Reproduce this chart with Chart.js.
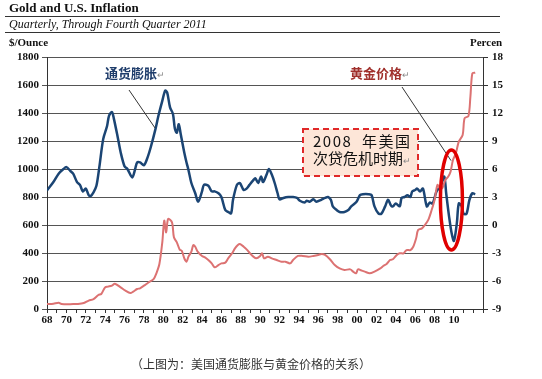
<!DOCTYPE html>
<html><head><meta charset="utf-8">
<script src="https://cdn.jsdelivr.net/npm/chart.js@4/dist/chart.umd.min.js"></script>
<style>html,body{margin:0;padding:0;background:#fff;}#wrap{width:542px;height:379px;}</style>
</head><body><div id="wrap"><canvas id="c" width="542" height="379"></canvas></div>
<script>
// ---- data ----
const inflationYears = [1968.0,1968.66,1969.2,1969.7,1970.0,1970.4,1970.7,1971.1,1971.4,1971.7,1972.0,1972.3,1972.5,1972.8,1973.1,1973.4,1973.8,1974.2,1974.4,1974.7,1974.9,1975.3,1975.6,1976.0,1976.3,1976.8,1977.1,1977.3,1977.6,1978.0,1978.4,1978.7,1979.2,1979.5,1979.9,1980.2,1980.4,1980.7,1981.0,1981.2,1981.4,1981.6,1981.8,1982.2,1982.4,1982.6,1982.9,1983.3,1983.6,1984.0,1984.2,1984.65,1985.0,1985.3,1985.7,1986.0,1986.4,1986.7,1987.0,1987.2,1987.6,1987.9,1988.3,1988.6,1988.9,1989.3,1989.5,1989.8,1990.1,1990.3,1990.7,1990.9,1991.2,1991.5,1991.8,1992.0,1992.4,1992.9,1993.4,1993.8,1994.1,1994.6,1994.8,1995.1,1995.5,1995.8,1996.3,1996.7,1997.0,1997.3,1997.5,1997.9,1998.2,1998.7,1999.1,1999.4,1999.95,2000.3,2000.6,2001.2,2001.5,2001.8,2002.2,2002.5,2002.9,2003.2,2003.5,2003.7,2004.0,2004.4,2004.6,2004.9,2005.2,2005.5,2005.7,2006.0,2006.2,2006.5,2006.8,2007.2,2007.5,2007.8,2008.2,2008.6,2009.0,2009.2,2009.5,2009.75,2010.0,2010.3,2010.5,2010.8,2011.0,2011.3,2011.6,2011.9,2012.2];
const inflationValues = [3.7,4.6,5.5,6.0,6.2,5.8,5.5,4.6,4.3,3.6,3.9,3.2,3.1,3.5,4.2,6.2,9.2,10.6,11.7,12.1,11.4,9.4,7.8,6.3,6.0,5.1,6.0,6.7,6.7,6.4,7.3,8.3,10.3,11.7,13.3,14.4,14.2,12.6,11.9,10.3,9.9,10.8,9.75,7.6,6.7,5.9,4.5,3.4,2.5,3.6,4.3,4.2,3.6,3.6,3.4,3.0,1.6,1.4,1.25,2.7,4.3,4.5,3.75,3.9,4.3,4.8,5.0,4.5,5.2,4.6,5.5,6.0,5.4,4.5,3.4,2.75,2.9,3.0,3.0,2.9,2.6,2.4,2.6,2.5,2.75,2.5,2.7,2.9,3.0,2.7,2.0,1.6,1.4,1.4,1.6,2.0,2.5,3.2,3.3,3.3,3.2,2.0,1.25,1.2,2.0,2.7,2.1,2.0,2.3,2.0,2.9,3.0,3.2,3.0,3.6,3.75,3.9,3.6,3.9,2.0,2.4,2.3,3.6,4.1,5.2,3.4,0.9,-0.8,-1.7,0.2,2.3,2.0,1.2,1.2,2.7,3.4,3.3];
const goldYears = [1968.0,1968.66,1969.2,1969.5,1970.7,1971.2,1971.8,1972.3,1972.8,1973.3,1973.6,1974.0,1974.3,1974.7,1975.0,1975.6,1976.1,1976.6,1976.9,1977.3,1977.6,1978.1,1978.4,1979.0,1979.3,1979.6,1979.9,1980.1,1980.3,1980.5,1980.9,1981.1,1981.4,1981.7,1981.9,1982.2,1982.4,1982.6,1982.9,1983.1,1983.3,1983.55,1984.0,1984.3,1984.65,1985.0,1985.3,1985.7,1986.0,1986.4,1986.7,1987.1,1987.4,1987.7,1987.9,1988.3,1988.6,1988.95,1989.3,1989.6,1990.0,1990.2,1990.4,1990.8,1991.2,1991.7,1992.2,1992.6,1993.1,1993.4,1993.9,1994.4,1994.97,1995.5,1996.0,1996.35,1996.7,1997.2,1997.7,1998.2,1998.7,1999.3,1999.6,1999.9,2000.1,2000.5,2000.8,2001.3,2001.8,2002.4,2002.7,2003.05,2003.4,2003.7,2004.1,2004.4,2004.8,2005.1,2005.5,2005.8,2006.1,2006.3,2006.7,2007.0,2007.35,2007.7,2008.0,2008.3,2008.55,2008.8,2009.1,2009.4,2009.65,2009.9,2010.2,2010.5,2010.9,2011.1,2011.5,2011.7,2011.9,2012.2];
const goldValues = [35,38,45,36,35,36,43,60,71,100,107,155,160,167,181,155,131,114,124,143,148,171,186,214,257,321,476,631,547,643,619,512,476,424,417,357,338,374,410,457,445,410,379,369,350,326,298,314,326,331,362,398,433,457,464,445,426,398,374,362,379,398,362,374,362,350,338,338,326,350,379,379,374,379,386,393,386,355,314,290,279,283,267,255,283,274,267,255,267,290,307,321,350,355,386,398,398,421,421,445,505,564,576,600,636,707,779,886,862,862,921,945,981,1064,1112,1195,1243,1362,1379,1517,1683,1688];
const leftTicks = {min:0, max:1800, step:200};
const rightTicks = {min:-9, max:18, step:3};
const yearRange = {min:1968, max:2013};
const texts = {
  title:'Gold and U.S. Inflation',
  subtitle:'Quarterly, Through Fourth Quarter 2011',
  leftUnit:'$/Ounce', rightUnit:'Percen',
  inflLabel:'通货膨胀', goldLabel:'黄金价格',
  box1:'2008  年美国', box2:'次贷危机时期',
  caption:'（上图为：美国通货膨胀与黄金价格的关系）'
};

const pts = (xs, ys) => xs.map((x,i)=>({x:x, y:ys[i]}));
const SERIF = '"Liberation Serif","Times New Roman",serif';
const CJK = '"Noto Sans CJK SC","Noto Sans",sans-serif';

const overlay = {
  id:'overlay',
  afterDraw(chart){
    const ctx = chart.ctx, x = chart.scales.x, yL = chart.scales.y;
    ctx.save();
    // header
    ctx.fillStyle = '#111'; ctx.textBaseline='middle'; ctx.textAlign='left';
    ctx.font = 'bold 13px '+SERIF; ctx.fillText(texts.title, 9, 9);
    ctx.strokeStyle='#333'; ctx.lineWidth=1;
    ctx.beginPath(); ctx.moveTo(5,16.5); ctx.lineTo(500,16.5); ctx.stroke();
    ctx.font = 'italic 12px '+SERIF; ctx.fillText(texts.subtitle, 9, 25);
    ctx.beginPath(); ctx.moveTo(5,32.5); ctx.lineTo(500,32.5); ctx.stroke();
    ctx.font = 'bold 11px '+SERIF; ctx.fillText(texts.leftUnit, 9, 43);
    ctx.fillText(texts.rightUnit, 470, 43);
    // leader lines
    ctx.strokeStyle='#333'; ctx.lineWidth=1;
    ctx.beginPath(); ctx.moveTo(129,90); ctx.lineTo(x.getPixelForValue(1979.15), yL.getPixelForValue(1293)); ctx.stroke();
    ctx.beginPath(); ctx.moveTo(402,87); ctx.lineTo(x.getPixelForValue(2009.7), yL.getPixelForValue(1060)); ctx.stroke();
    // series labels
    ctx.font = 'bold 13px '+CJK;
    ctx.fillStyle='#1f3d6b'; ctx.fillText(texts.inflLabel, 105, 73);
    let w = ctx.measureText(texts.inflLabel).width;
    ctx.font='9px '+CJK; ctx.fillStyle='#888'; ctx.fillText('↵', 105+w, 75);
    ctx.font = 'bold 13px '+CJK;
    ctx.fillStyle='#a0302c'; ctx.fillText(texts.goldLabel, 350, 73);
    w = ctx.measureText(texts.goldLabel).width;
    ctx.font='9px '+CJK; ctx.fillStyle='#888'; ctx.fillText('↵', 350+w, 75);
    // crisis box
    ctx.fillStyle='#fde6d8'; ctx.fillRect(303,129,115,47);
    ctx.setLineDash([6,4]); ctx.strokeStyle='#e02828'; ctx.lineWidth=2;
    ctx.strokeRect(303,129,115,47); ctx.setLineDash([]);
    ctx.fillStyle='#111'; ctx.font='15px '+CJK;
    ctx.letterSpacing='1.5px';
    ctx.fillText(texts.box1, 313, 141);
    ctx.letterSpacing='0px';
    ctx.fillText(texts.box2, 313, 158);
    w = ctx.measureText(texts.box2).width;
    ctx.font='9px '+CJK; ctx.fillStyle='#888'; ctx.fillText('↵', 313+w, 161);
    // ellipse around 2008-09 crisis
    const cx = x.getPixelForValue(2009.74), cy = yL.getPixelForValue(779);
    ctx.strokeStyle='#e00000'; ctx.lineWidth=3.5;
    ctx.beginPath(); ctx.ellipse(cx, cy, 11, 50, 0, 0, Math.PI*2); ctx.stroke();
    // caption
    ctx.fillStyle='#333'; ctx.font='12px '+CJK; ctx.textAlign='left';
    ctx.fillText(texts.caption, 131, 364);
    ctx.restore();
  }
};

new Chart(document.getElementById('c'), {
  type:'line',
  data:{ datasets:[
    {label:'Gold', data:pts(goldYears, goldValues), yAxisID:'y', borderColor:'#dc7272', borderWidth:2, pointRadius:0, tension:0.3},
    {label:'Inflation', data:pts(inflationYears, inflationValues), yAxisID:'y1', borderColor:'#1b4574', borderWidth:2.5, pointRadius:0, tension:0.3}
  ]},
  options:{
    responsive:false, animation:false, devicePixelRatio:1,
    layout:{padding:{top:57,left:0,right:0,bottom:0}},
    plugins:{legend:{display:false}, tooltip:{enabled:false}},
    scales:{
      x:{type:'linear', min:yearRange.min, max:yearRange.max,
        afterFit(s){s.height=70;},
        afterBuildTicks(s){ const t=[]; for(let v=yearRange.min; v<=yearRange.max; v++) t.push({value:v}); s.ticks=t; },
        grid:{drawOnChartArea:false, drawTicks:true, tickLength:4, color:'#333'},
        border:{color:'#333', width:1},
        ticks:{autoSkip:false, maxRotation:0, padding:1, color:'#111', font:{family:SERIF, size:11, weight:'bold'},
          callback(v){ v=Math.round(v); return (v%2===0 && v<2012) ? String(v%100).padStart(2,'0') : ''; }}
      },
      y:{position:'left', min:leftTicks.min, max:leftTicks.max,
        afterFit(s){s.width=47;},
        grid:{color:'#555', lineWidth:1, tickLength:5},
        border:{color:'#333'},
        ticks:{stepSize:leftTicks.step, padding:3, color:'#111', font:{family:SERIF, size:11, weight:'bold'},
          callback(v){ return String(v); }}
      },
      y1:{position:'right', min:rightTicks.min, max:rightTicks.max,
        afterFit(s){s.width=59;},
        grid:{drawOnChartArea:false, color:'#333', tickLength:5},
        border:{color:'#333'},
        ticks:{stepSize:rightTicks.step, padding:4, color:'#111', font:{family:SERIF, size:11, weight:'bold'},
          callback(v){ return String(v); }}
      }
    }
  },
  plugins:[overlay]
});
</script></body></html>
